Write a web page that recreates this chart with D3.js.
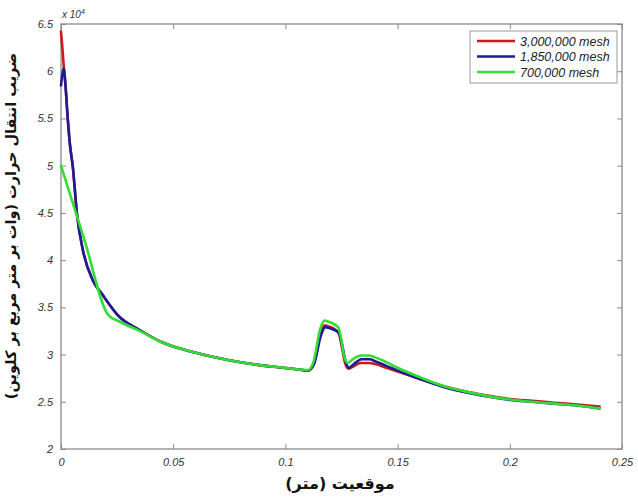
<!DOCTYPE html>
<html>
<head>
<meta charset="utf-8">
<script src="https://cdn.jsdelivr.net/npm/d3@7"></script>
<style>
body{margin:0;background:#fff;}
svg{display:block;}
</style>
</head>
<body>
<svg id="chart" width="638" height="502"></svg>
<script>
// ---- data (y values in units of 1e4 W/m^2K) ----
const seriesNames = ["3,000,000 mesh", "1,850,000 mesh", "700,000 mesh"];
const seriesColors = ["#cc1a1a", "#1c1c96", "#33dd33"];

const redX = [0, 0.0007, 0.0013, 0.002, 0.003, 0.004, 0.0053, 0.0071, 0.0098, 0.0143, 0.0183, 0.026, 0.035, 0.045, 0.055, 0.065, 0.075, 0.085, 0.095, 0.105, 0.110, 0.1125, 0.1155, 0.1175, 0.119, 0.1235, 0.125, 0.1265, 0.128, 0.130, 0.1335, 0.137, 0.140, 0.145, 0.150, 0.160, 0.170, 0.180, 0.190, 0.200, 0.210, 0.220, 0.230, 0.240];
const redY = [6.42, 6.22, 6.03, 5.85, 5.50, 5.22, 4.98, 4.49, 4.10, 3.78, 3.64, 3.40, 3.26, 3.13, 3.05, 2.99, 2.94, 2.90, 2.87, 2.845, 2.83, 2.90, 3.22, 3.31, 3.30, 3.24, 3.10, 2.92, 2.85, 2.87, 2.91, 2.91, 2.90, 2.86, 2.82, 2.74, 2.67, 2.61, 2.565, 2.53, 2.51, 2.49, 2.47, 2.45];

const blueX = [0, 0.0007, 0.0013, 0.002, 0.003, 0.004, 0.0053, 0.0071, 0.0098, 0.0143, 0.0183, 0.026, 0.035, 0.045, 0.055, 0.065, 0.075, 0.085, 0.095, 0.105, 0.110, 0.1128, 0.1158, 0.1178, 0.1195, 0.1238, 0.1253, 0.1268, 0.1283, 0.1305, 0.1340, 0.1375, 0.140, 0.145, 0.150, 0.160, 0.170, 0.180, 0.190, 0.200, 0.210, 0.220, 0.230, 0.240];
const blueY = [5.85, 5.98, 6.03, 5.85, 5.50, 5.22, 4.98, 4.49, 4.10, 3.78, 3.64, 3.40, 3.26, 3.13, 3.05, 2.99, 2.94, 2.90, 2.87, 2.845, 2.83, 2.90, 3.20, 3.29, 3.28, 3.23, 3.10, 2.93, 2.86, 2.90, 2.95, 2.95, 2.93, 2.88, 2.83, 2.74, 2.66, 2.60, 2.555, 2.52, 2.50, 2.48, 2.46, 2.43];

const greenX = [0, 0.0105, 0.021, 0.026, 0.035, 0.045, 0.055, 0.065, 0.075, 0.085, 0.095, 0.105, 0.110, 0.1125, 0.1155, 0.1175, 0.119, 0.1235, 0.125, 0.1262, 0.1278, 0.130, 0.1337, 0.137, 0.140, 0.145, 0.150, 0.160, 0.170, 0.180, 0.190, 0.200, 0.210, 0.220, 0.230, 0.240];
const greenY = [5.00, 4.21, 3.42, 3.35, 3.25, 3.13, 3.05, 2.99, 2.94, 2.90, 2.87, 2.845, 2.835, 2.92, 3.27, 3.36, 3.35, 3.29, 3.15, 2.98, 2.91, 2.95, 2.99, 2.99, 2.97, 2.92, 2.86, 2.76, 2.67, 2.61, 2.56, 2.525, 2.50, 2.48, 2.46, 2.43];

const xTicks = [0, 0.05, 0.1, 0.15, 0.2, 0.25];
const xTickLabels = ["0", "0.05", "0.1", "0.15", "0.2", "0.25"];
const yTicks = [2, 2.5, 3, 3.5, 4, 4.5, 5, 5.5, 6, 6.5];
const yTickLabels = ["2", "2.5", "3", "3.5", "4", "4.5", "5", "5.5", "6", "6.5"];

const xLabel = "موقعیت (متر)";
const yLabel = "ضریب انتقال حرارت (وات بر متر مربع بر کلوین)";

// ---- layout ----
const svg = d3.select("#chart");
const L = 61, R = 622, T = 24, B = 449;
const x = d3.scaleLinear().domain([0, 0.25]).range([L, R]);
const y = d3.scaleLinear().domain([2, 6.5]).range([B, T]);

const axisColor = "#8a8a8a";
const tickFont = "italic 11px 'Liberation Sans', Arial, sans-serif";

// frame
svg.append("rect").attr("x", L).attr("y", T).attr("width", R - L).attr("height", B - T)
  .attr("fill", "#fff").attr("stroke", axisColor).attr("stroke-width", 1.3);

// axes with inward ticks
const gx = svg.append("g").attr("transform", `translate(0,${B})`)
  .call(d3.axisBottom(x).tickValues(xTicks).tickFormat((d, i) => xTickLabels[i]).tickSizeInner(-5).tickSizeOuter(0).tickPadding(9));
const gxTop = svg.append("g").attr("transform", `translate(0,${T})`)
  .call(d3.axisTop(x).tickValues(xTicks).tickFormat("").tickSizeInner(-5).tickSizeOuter(0));
const gy = svg.append("g").attr("transform", `translate(${L},0)`)
  .call(d3.axisLeft(y).tickValues(yTicks).tickFormat((d, i) => yTickLabels[i]).tickSizeInner(-5).tickSizeOuter(0).tickPadding(8));
const gyR = svg.append("g").attr("transform", `translate(${R},0)`)
  .call(d3.axisRight(y).tickValues(yTicks).tickFormat("").tickSizeInner(-5).tickSizeOuter(0));

[gx, gxTop, gy, gyR].forEach(g => {
  g.select(".domain").remove();
  g.selectAll(".tick line").attr("stroke", axisColor).attr("stroke-width", 1);
  g.selectAll(".tick text").attr("fill", "#333").style("font", tickFont);
});

// multiplier
const mult = svg.append("text").attr("x", L + 1).attr("y", T - 6)
  .attr("fill", "#333").style("font", "italic 10px 'Liberation Sans', Arial, sans-serif");
mult.append("tspan").text("x 10");
mult.append("tspan").attr("dy", -4).style("font-size", "7px").text("4");

// lines
const line = d3.line().x(d => x(d[0])).y(d => y(d[1])).curve(d3.curveMonotoneX);
const allSeries = [
  d3.zip(redX, redY),
  d3.zip(blueX, blueY),
  d3.zip(greenX, greenY)
];
allSeries.forEach((s, i) => {
  svg.append("path").datum(s).attr("d", line)
    .attr("fill", "none").attr("stroke", seriesColors[i]).attr("stroke-width", 2.6)
    .attr("stroke-linejoin", "round").attr("stroke-linecap", "round");
});

// legend
const lg = svg.append("g");
lg.append("rect").attr("x", 470).attr("y", 31).attr("width", 147).attr("height", 52)
  .attr("fill", "#fff").attr("stroke", "#999").attr("stroke-width", 1);
seriesNames.forEach((n, i) => {
  const yy = 41 + i * 15.5;
  lg.append("line").attr("x1", 477).attr("x2", 515).attr("y1", yy).attr("y2", yy)
    .attr("stroke", seriesColors[i]).attr("stroke-width", 2.6);
  lg.append("text").attr("x", 520).attr("y", yy + 4.5).text(n)
    .attr("fill", "#222").style("font", "italic 12.5px 'Liberation Sans', Arial, sans-serif");
});

// axis labels
svg.append("text").attr("x", 340).attr("y", 489).attr("text-anchor", "middle")
  .attr("direction", "rtl")
  .style("font", "bold 16px 'DejaVu Sans', 'Noto Sans', sans-serif").attr("fill", "#111")
  .text(xLabel);
svg.append("text").attr("transform", "translate(16,226) rotate(-90)").attr("text-anchor", "middle")
  .attr("direction", "rtl")
  .style("font", "bold 14.5px 'DejaVu Sans', 'Noto Sans', sans-serif").attr("fill", "#111")
  .text(yLabel);
</script>
</body>
</html>
